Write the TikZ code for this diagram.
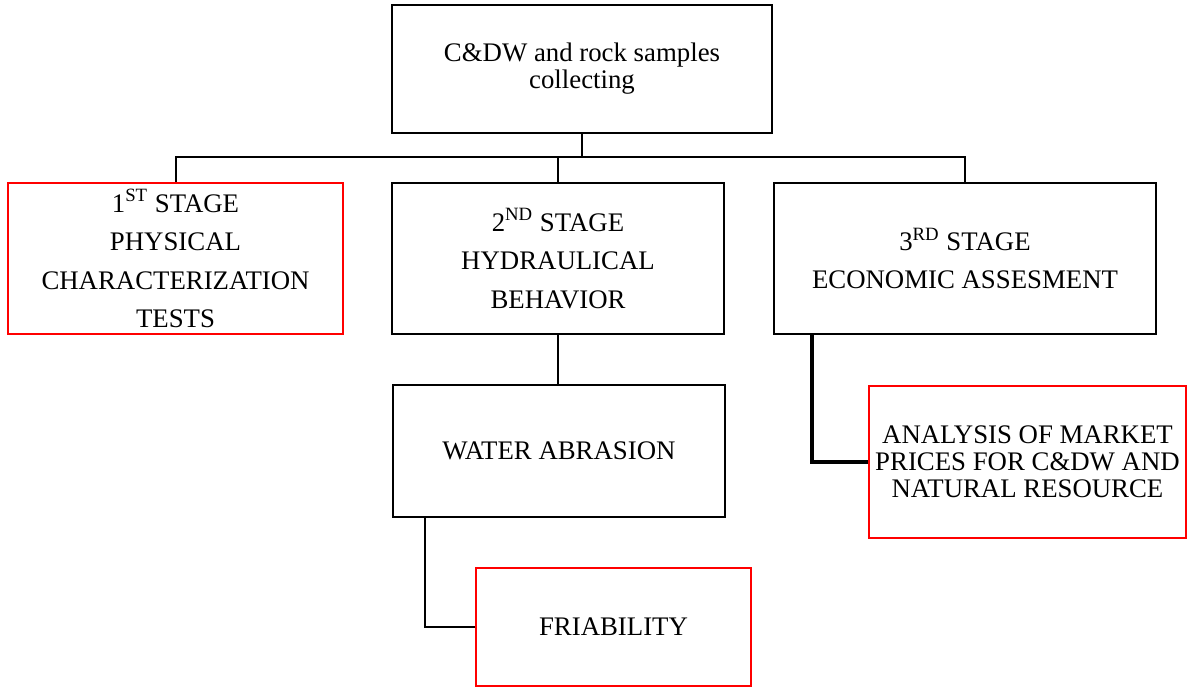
\documentclass[tikz,border=0pt]{standalone}
\usepackage{fontspec}
\setmainfont{Liberation Serif}
\usetikzlibrary{positioning}

\begin{document}
\begin{tikzpicture}[x=0.5pt,y=-0.5pt,
  box/.style={draw,line width=1pt,align=center,inner sep=0pt,font=\fontsize{13.4}{19.25}\selectfont},
  redbox/.style={box,draw=red},
  tight/.style={font=\fontsize{13.4}{13.5}\selectfont},
  link/.style={line width=1pt}]
\useasboundingbox (0,0) rectangle (1189,686);
\node[box,tight,minimum width=190pt,minimum height=64pt] (top) at (582,69) {C\&DW and rock samples\\collecting};
\node[redbox,minimum width=167.5pt,minimum height=75.5pt] (s1) at (175.5,258.5) {1\textsuperscript{ST} STAGE\\PHYSICAL\\CHARACTERIZATION\\TESTS};
\node[box,minimum width=166pt,minimum height=75.5pt] (s2) at (558,258.5) {2\textsuperscript{ND} STAGE\\HYDRAULICAL\\BEHAVIOR};
\node[box,minimum width=191pt,minimum height=75.5pt] (s3) at (965,258.5) {3\textsuperscript{RD} STAGE\\ECONOMIC ASSESMENT};
\node[box,minimum width=166pt,minimum height=66pt] (water) at (559,451) {WATER ABRASION};
\node[redbox,minimum width=137.5pt,minimum height=59pt] (fri) at (613.5,627) {FRIABILITY};
\node[redbox,tight,minimum width=158.5pt,minimum height=76pt] (ana) at (1027.5,462) {ANALYSIS OF MARKET\\PRICES FOR C\&DW AND\\NATURAL RESOURCE};
\coordinate (bus) at (582,157);
\draw[link] (top.south) -- (bus);
\draw[link] (s1.north) |- (bus) -| (s3.north);
\draw[link] (s2.north) -- (s2.north |- bus);
\draw[link] (s2.south) -- (s2.south |- water.north);
\draw[link] ([xshift=16.5pt]water.south west) |- (fri.west);
\draw[line width=1.75pt] ([xshift=19.5pt]s3.south west) |- (ana.west);
\end{tikzpicture}
\end{document}
